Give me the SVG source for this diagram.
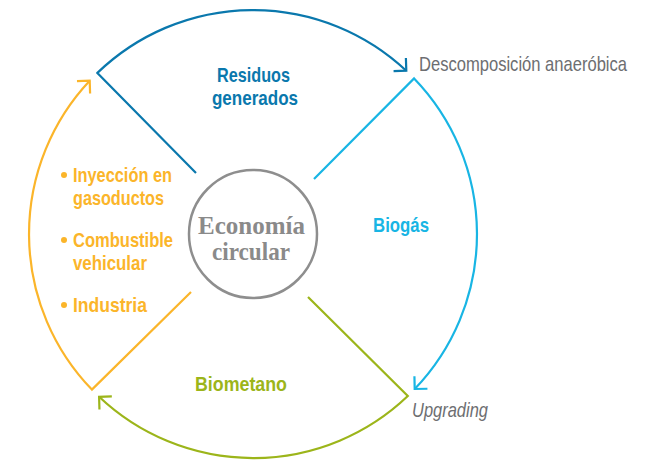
<svg xmlns="http://www.w3.org/2000/svg" width="649" height="462" viewBox="0 0 649 462">
<style>
.lbl{font-family:"Liberation Sans",Arial,sans-serif;font-size:21px;font-weight:bold}
.note{font-family:"Liberation Sans",Arial,sans-serif;font-size:21px;fill:#6d6e71}
.ctr{font-family:"Liberation Serif",serif;font-size:25px;font-weight:bold;fill:#8a8a8a}
.ln{fill:none;stroke-width:2.2;stroke-linejoin:miter;stroke-linecap:butt}
</style>
<defs>
<marker id="mBlue" markerUnits="userSpaceOnUse" markerWidth="24" markerHeight="24" viewBox="-12 -12 24 24" refX="0" refY="0" orient="auto"><path d="M-9,-9 L0,0 L-9,9" fill="none" stroke="#0a78ad" stroke-width="2.2"/></marker>
<marker id="mCyan" markerUnits="userSpaceOnUse" markerWidth="24" markerHeight="24" viewBox="-12 -12 24 24" refX="0" refY="0" orient="auto"><path d="M-9,-9 L0,0 L-9,9" fill="none" stroke="#18b5e4" stroke-width="2.2"/></marker>
<marker id="mGreen" markerUnits="userSpaceOnUse" markerWidth="24" markerHeight="24" viewBox="-12 -12 24 24" refX="0" refY="0" orient="auto"><path d="M-9,-9 L0,0 L-9,9" fill="none" stroke="#9cb51a" stroke-width="2.2"/></marker>
<marker id="mYellow" markerUnits="userSpaceOnUse" markerWidth="24" markerHeight="24" viewBox="-12 -12 24 24" refX="0" refY="0" orient="auto"><path d="M-9,-9 L0,0 L-9,9" fill="none" stroke="#fbb52a" stroke-width="2.2"/></marker>
</defs>
<g id="connectors">
<path class="ln" stroke="#0a78ad" d="M196,173 L97.4,72.9 A224,224 0 0 1 406.3,70.7" marker-end="url(#mBlue)"/>
<path class="ln" stroke="#18b5e4" d="M314,179 L414.1,78.4 A224,224 0 0 1 414.7,389" marker-end="url(#mCyan)"/>
<path class="ln" stroke="#9cb51a" d="M308,297 L407.8,396 A224,224 0 0 1 99.1,396.8" marker-end="url(#mGreen)"/>
<path class="ln" stroke="#fbb52a" d="M191,292 L91.9,389.6 A224,224 0 0 1 89.7,80.7" marker-end="url(#mYellow)"/>
</g>
<g id="center">
<circle cx="253" cy="234" r="64" fill="none" stroke="#8e8e8e" stroke-width="2.5"/>
<text class="ctr" x="251.5" y="234" text-anchor="middle" textLength="107" lengthAdjust="spacingAndGlyphs">Economía</text>
<text class="ctr" x="251" y="260" text-anchor="middle" textLength="78" lengthAdjust="spacingAndGlyphs">circular</text>
</g>
<g id="residuos" fill="#0a78ad">
<text class="lbl" transform="translate(253.5,82) scale(0.82,1)" text-anchor="middle" textLength="89" lengthAdjust="spacingAndGlyphs">Residuos</text>
<text class="lbl" transform="translate(255,105) scale(0.82,1)" text-anchor="middle" textLength="105" lengthAdjust="spacingAndGlyphs">generados</text>
</g>
<g id="descomposicion">
<text class="note" transform="translate(419,71) scale(0.82,1)" textLength="253.7" lengthAdjust="spacingAndGlyphs">Descomposición anaeróbica</text>
</g>
<g id="biogas">
<text class="lbl" fill="#18b5e4" transform="translate(373,232) scale(0.82,1)" textLength="68.3" lengthAdjust="spacingAndGlyphs">Biogás</text>
</g>
<g id="upgrading">
<text class="note" font-style="italic" transform="translate(412,417) scale(0.82,1)" textLength="92.7" lengthAdjust="spacingAndGlyphs">Upgrading</text>
</g>
<g id="biometano">
<text class="lbl" fill="#9cb51a" transform="translate(195,391) scale(0.82,1)" textLength="112.2" lengthAdjust="spacingAndGlyphs">Biometano</text>
</g>
<g id="usos" fill="#fbb52a">
<circle cx="64" cy="175" r="3"/>
<circle cx="64" cy="240" r="3"/>
<circle cx="64" cy="305" r="3"/>
<text class="lbl" transform="translate(73,182) scale(0.82,1)" textLength="120.7" lengthAdjust="spacingAndGlyphs">Inyección en</text>
<text class="lbl" transform="translate(73,205) scale(0.82,1)" textLength="111" lengthAdjust="spacingAndGlyphs">gasoductos</text>
<text class="lbl" transform="translate(73,247) scale(0.82,1)" textLength="122" lengthAdjust="spacingAndGlyphs">Combustible</text>
<text class="lbl" transform="translate(73,270) scale(0.82,1)" textLength="90.2" lengthAdjust="spacingAndGlyphs">vehicular</text>
<text class="lbl" transform="translate(73,312) scale(0.82,1)" textLength="90.2" lengthAdjust="spacingAndGlyphs">Industria</text>
</g>
</svg>
